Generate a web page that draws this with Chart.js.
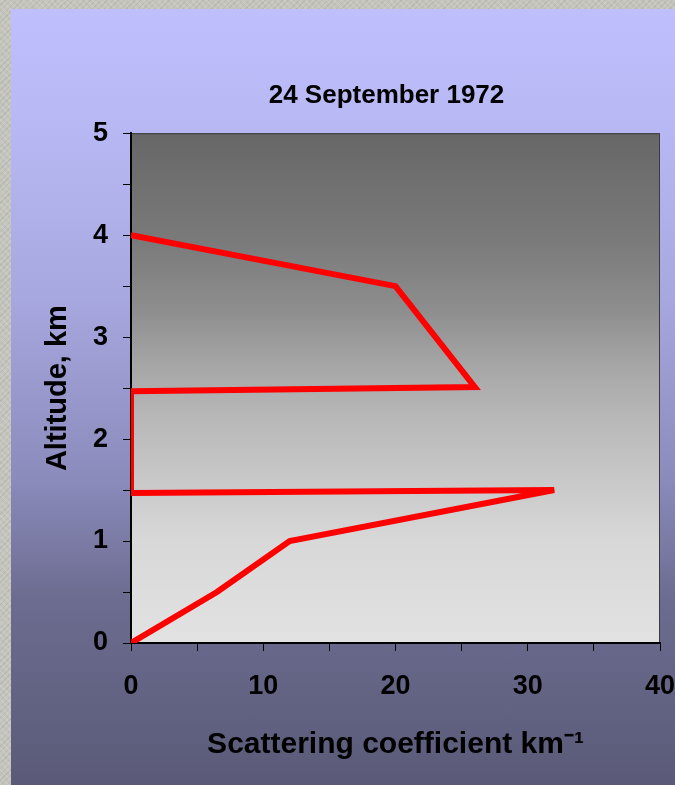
<!DOCTYPE html>
<html>
<head>
<meta charset="utf-8">
<script src="https://cdn.jsdelivr.net/npm/chart.js@4.4.1/dist/chart.umd.min.js"></script>
<style>
  html, body { margin: 0; padding: 0; width: 675px; height: 785px; overflow: hidden; }
  body {
    background-color: #c4c4bc;
    background-image:
      repeating-linear-gradient(45deg, rgba(255,255,255,0.10) 0 2px, rgba(0,0,0,0) 2px 5px),
      repeating-linear-gradient(-45deg, rgba(0,0,0,0.06) 0 1px, rgba(0,0,0,0) 1px 4px);
  }
  #panel {
    position: absolute; left: 11px; top: 9px; width: 751px; height: 776px;
    background: linear-gradient(to bottom, #bfbffd 0%, #b9b9f6 13%, #a8a8e0 37%, #8a8abb 61%, #6c6c90 76%, #5a5a78 100%);
  }
</style>
</head>
<body>
<div id="panel"><canvas id="viz"></canvas></div>
<script>
// profile points, walked in drawing order
const SCATTERING = [0, 6.5, 12, 32, 0, 0, 26, 20, 0];
const ALTITUDE = [0, 0.5, 1, 1.5, 1.47, 2.47, 2.51, 3.5, 4];
const X_LABELS = [0, 10, 20, 30, 40];
const Y_LABELS = [0, 1, 2, 3, 4, 5];

const FONT = "'Liberation Sans', Arial, sans-serif";

const plotBackground = {
    id: 'plotBackground',
    beforeDraw(chart) {
        const {ctx, chartArea: a} = chart;
        const g = ctx.createLinearGradient(0, a.top, 0, a.bottom);
        g.addColorStop(0, '#676767');
        g.addColorStop(0.21, '#7a7a7a');
        g.addColorStop(0.35, '#8e8e8e');
        g.addColorStop(0.45, '#a5a5a5');
        g.addColorStop(0.56, '#b8b8b8');
        g.addColorStop(0.80, '#d8d8d8');
        g.addColorStop(1, '#e2e2e2');
        ctx.save();
        ctx.fillStyle = g;
        ctx.fillRect(a.left, a.top, a.right - a.left, a.bottom - a.top);
        ctx.strokeStyle = '#3a3a3a';
        ctx.lineWidth = 1;
        ctx.strokeRect(a.left + 0.5, a.top + 0.5, a.right - a.left - 1, a.bottom - a.top - 1);
        ctx.restore();
    }
};

new Chart(document.getElementById('viz'), {
    type: 'scatter',
    data: {
        datasets: [{
            label: 'Scattering coefficient',
            data: SCATTERING.map((x, i) => ({x: x, y: ALTITUDE[i]})),
            showLine: true,
            borderColor: '#ff0000',
            borderWidth: 6,
            pointRadius: 0,
            tension: 0,
            clip: 0
        }]
    },
    options: {
        responsive: true,
        maintainAspectRatio: false,
        animation: false,
        layout: { padding: 0 },
        scales: {
            x: {
                min: 0,
                max: 40,
                afterFit: (scale) => {
                    scale.height = 142;
                    scale.paddingRight = 102; // plot ends at 660px, panel runs past the window
                },
                ticks: {
                    stepSize: 5,
                    autoSkip: false,
                    maxRotation: 0,
                    padding: 19,
                    color: '#000',
                    font: { family: FONT, size: 27, weight: 'bold' },
                    callback: (v) => X_LABELS.includes(v) ? String(v) : ''
                },
                grid: { drawOnChartArea: false, drawTicks: true, tickLength: 8, color: '#000' },
                border: { color: '#000', width: 2 },
                title: {
                    display: true,
                    text: 'Scattering coefficient km⁻¹',
                    color: '#000',
                    padding: { top: 0, bottom: 22 },
                    font: { family: FONT, size: 30, weight: 'bold' }
                }
            },
            y: {
                min: 0,
                max: 5,
                afterFit: (scale) => { scale.width = 120; },
                ticks: {
                    stepSize: 0.5,
                    autoSkip: false,
                    padding: 15,
                    color: '#000',
                    font: { family: FONT, size: 27, weight: 'bold' },
                    callback: (v) => Y_LABELS.includes(v) ? String(v) : ''
                },
                grid: { drawOnChartArea: false, drawTicks: true, tickLength: 8, color: '#000' },
                border: { color: '#000', width: 2 },
                title: {
                    display: true,
                    text: 'Altitude, km',
                    color: '#000',
                    padding: { top: 30, bottom: 0 },
                    font: { family: FONT, size: 29, weight: 'bold' }
                }
            }
        },
        plugins: {
            title: {
                display: true,
                text: '24 September 1972',
                color: '#000',
                padding: { top: 71, bottom: 22 },
                font: { family: FONT, size: 26, weight: 'bold' }
            },
            legend: { display: false },
            tooltip: { enabled: false }
        }
    },
    plugins: [plotBackground]
});
</script>
</body>
</html>
